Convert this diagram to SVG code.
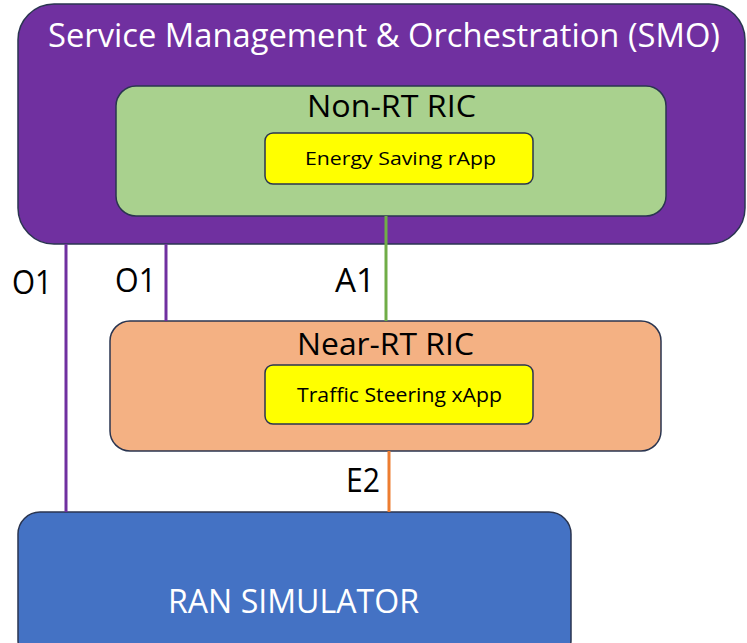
<svg xmlns="http://www.w3.org/2000/svg" width="747" height="643" viewBox="0 0 747 643">
  <style>
    .box { stroke: #2a3550; stroke-width: 1.5; }
    .t { font-family: "Open Sans", "Liberation Sans", sans-serif; }
    .lbl { font-family: "Open Sans", "Liberation Sans", sans-serif; font-size: 32px; fill: #000; }
  </style>
  <rect width="747" height="643" fill="#ffffff"/>

  <g id="smo">
    <rect class="box" x="18" y="4" width="727" height="240" rx="36" fill="#7030A0"/>
    <text class="t" x="48" y="47" font-size="32" fill="#ffffff" textLength="672" lengthAdjust="spacingAndGlyphs">Service Management &amp; Orchestration (SMO)</text>
  </g>

  <g id="non-rt-ric">
    <rect class="box" x="116" y="86" width="550" height="130" rx="20" fill="#A9D18E"/>
    <text class="t" x="307" y="117" font-size="31" fill="#000" textLength="169" lengthAdjust="spacingAndGlyphs">Non-RT RIC</text>
  </g>

  <g id="energy-saving-rapp">
    <rect class="box" x="265" y="133" width="268" height="51" rx="8" fill="#FFFF00"/>
    <text class="t" x="305" y="165" font-size="19" fill="#000" textLength="191" lengthAdjust="spacingAndGlyphs">Energy Saving rApp</text>
  </g>

  <g id="near-rt-ric">
    <rect class="box" x="110" y="321" width="551" height="130" rx="20" fill="#F4B183"/>
    <text class="t" x="297" y="355" font-size="31" fill="#000" textLength="177" lengthAdjust="spacingAndGlyphs">Near-RT RIC</text>
  </g>

  <g id="traffic-steering-xapp">
    <rect class="box" x="265" y="365" width="268" height="59" rx="8" fill="#FFFF00"/>
    <text class="t" x="297" y="402" font-size="20" fill="#000" textLength="205" lengthAdjust="spacingAndGlyphs">Traffic Steering xApp</text>
  </g>

  <g id="ran-simulator">
    <rect class="box" x="18" y="512" width="553" height="150" rx="22" fill="#4472C4"/>
    <text class="t" x="168" y="613" font-size="32" fill="#ffffff" textLength="251" lengthAdjust="spacingAndGlyphs">RAN SIMULATOR</text>
  </g>

  <g id="connectors" stroke-width="3" fill="none">
    <line x1="66" y1="244" x2="66" y2="512" stroke="#7030A0"/>
    <line x1="166" y1="244" x2="166" y2="321" stroke="#7030A0"/>
    <line x1="386" y1="216" x2="386" y2="321" stroke="#70AD47"/>
    <line x1="389" y1="451" x2="389" y2="512" stroke="#ED7D31"/>
  </g>

  <g id="connector-labels">
    <text class="lbl" x="12" y="294" textLength="40" lengthAdjust="spacingAndGlyphs">O1</text>
    <text class="lbl" x="115" y="292" textLength="41" lengthAdjust="spacingAndGlyphs">O1</text>
    <text class="lbl" x="335" y="292" textLength="40" lengthAdjust="spacingAndGlyphs">A1</text>
    <text class="lbl" x="346" y="492" textLength="34" lengthAdjust="spacingAndGlyphs">E2</text>
  </g>
</svg>
